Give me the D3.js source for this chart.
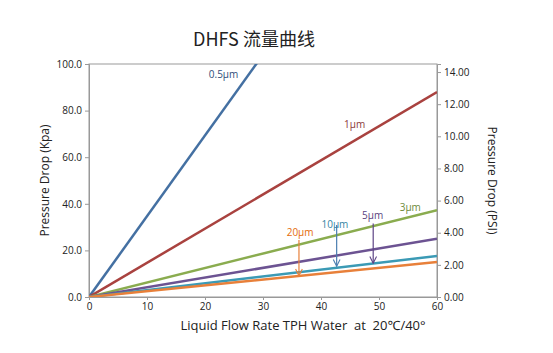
<!DOCTYPE html>
<html>
<head>
<meta charset="utf-8">
<script src="https://cdn.jsdelivr.net/npm/d3@7"></script>
<style>
  body { margin: 0; background: #fff; }
  text { font-family: "Open Sans", "Noto Sans", sans-serif; }
</style>
</head>
<body>
<div id="chart"></div>
<script>
// flow rate (TPH) vs pressure drop (kPa), one line per filter grade
const grades = ["0.5μm", "1μm", "3μm", "5μm", "10μm", "20μm"];
const flowPoints = [0, 60];
const dropAt = [
  [0, 208],
  [0, 88],
  [0, 37.3],
  [0, 25],
  [0, 17.6],
  [0, 15]
];
const lineColors = ["#4470a2", "#a9423f", "#8aac4f", "#6c5392", "#3b9ab5", "#e8803a"];
const textColors = ["#2f4e7a", "#8b3a38", "#6e8a3a", "#5a3f7e", "#3584a3", "#e46c0a"];
const arrowColors = [null, null, null, "#5e4486", "#4a7eb0", "#e8803a"];

// label positions (flow, kPa) and arrows [flow, fromKpa, toKpa]
const labelPos = [[23.2, 94], [45.8, 72.5], [55.4, 36.9], [48.9, 33.4], [42.4, 29.8], [36.4, 26.2]];
const arrows = [null, null, null, [49.0, 31.5, 14.5], [42.7, 30.9, 13.2], [36.2, 24.5, 9.1]];

const xTicks = [0, 10, 20, 30, 40, 50, 60];
const yTicks = [0, 20, 40, 60, 80, 100];
const psiTicks = [0, 2, 4, 6, 8, 10, 12, 14];

const width = 553, height = 353;
const margin = { top: 64, right: 116, bottom: 56, left: 89 };
const w = width - margin.left - margin.right;
const h = height - margin.top - margin.bottom;

const svg = d3.select("#chart").append("svg")
  .attr("width", width)
  .attr("height", height);

svg.append("text")
  .attr("x", 254)
  .attr("y", 46)
  .attr("text-anchor", "middle")
  .style("font-family", "'Noto Sans CJK SC', sans-serif")
  .style("font-size", "18px")
  .attr("fill", "#222")
  .text("DHFS 流量曲线");

const defs = svg.append("defs");
defs.append("clipPath").attr("id", "plot-clip")
  .append("rect").attr("width", w).attr("height", h);
arrowColors.forEach((c, i) => {
  if (!c) return;
  defs.append("marker")
    .attr("id", "arr" + i)
    .attr("viewBox", "0 0 10 10")
    .attr("refX", 9).attr("refY", 5)
    .attr("markerWidth", 7).attr("markerHeight", 7)
    .attr("orient", "auto")
    .append("path")
    .attr("d", "M1,1 L9,5 L1,9")
    .attr("fill", "none")
    .attr("stroke", c)
    .attr("stroke-width", 1.3);
});

const g = svg.append("g").attr("transform", `translate(${margin.left},${margin.top})`);

const x = d3.scaleLinear().domain([0, 60]).range([0, w]);
const y = d3.scaleLinear().domain([0, 100]).range([h, 0]);
const yPsi = d3.scaleLinear().domain([0, 14.5]).range([h, 0]);

// frame
g.append("rect")
  .attr("width", w).attr("height", h)
  .attr("fill", "none").attr("stroke", "#999");

const styleAxis = sel => {
  sel.select(".domain").attr("stroke", "#999");
  sel.selectAll(".tick line").attr("stroke", "#999");
  sel.selectAll(".tick text").attr("fill", "#222").style("font-size", "10px");
};

g.append("g")
  .call(d3.axisLeft(y).tickValues(yTicks).tickFormat(d3.format(".1f")).tickSize(4))
  .call(styleAxis);

g.append("g")
  .attr("transform", `translate(${w},0)`)
  .call(d3.axisRight(yPsi).tickValues(psiTicks).tickFormat(d3.format(".2f")).tickSize(4))
  .call(styleAxis);

g.append("g")
  .attr("transform", `translate(0,${h})`)
  .call(d3.axisBottom(x).tickValues(xTicks).tickSize(3))
  .call(styleAxis);

// lines
const line = d3.line().x(d => x(d[0])).y(d => y(d[1]));
const plot = g.append("g").attr("clip-path", "url(#plot-clip)");
grades.forEach((name, i) => {
  plot.append("path")
    .datum(flowPoints.map((f, j) => [f, dropAt[i][j]]))
    .attr("d", line)
    .attr("fill", "none")
    .attr("stroke", lineColors[i])
    .attr("stroke-width", 2.5);
});

// labels and arrows
grades.forEach((name, i) => {
  g.append("text")
    .attr("x", x(labelPos[i][0]))
    .attr("y", y(labelPos[i][1]))
    .attr("text-anchor", "middle")
    .style("font-size", "10px")
    .attr("fill", textColors[i])
    .text(name);
  const a = arrows[i];
  if (a) {
    g.append("line")
      .attr("x1", x(a[0])).attr("x2", x(a[0]))
      .attr("y1", y(a[1])).attr("y2", y(a[2]))
      .attr("stroke", arrowColors[i])
      .attr("stroke-width", 1.2)
      .attr("marker-end", `url(#arr${i})`);
  }
});

// axis titles
svg.append("text")
  .attr("transform", `translate(49,${margin.top + h / 2}) rotate(-90)`)
  .attr("text-anchor", "middle")
  .style("font-size", "12px")
  .attr("fill", "#222")
  .text("Pressure Drop (Kpa)");

svg.append("text")
  .attr("transform", `translate(488,${margin.top + h / 2}) rotate(90)`)
  .attr("text-anchor", "middle")
  .style("font-size", "12px")
  .attr("fill", "#222")
  .text("Pressure Drop (PSI)");

svg.append("text")
  .attr("x", 303)
  .attr("y", 330)
  .attr("text-anchor", "middle")
  .style("font-size", "13px")
  .attr("fill", "#222")
  .attr("xml:space", "preserve")
  .style("white-space", "pre")
  .text("Liquid Flow Rate TPH Water  at  20℃/40°");
</script>
</body>
</html>
